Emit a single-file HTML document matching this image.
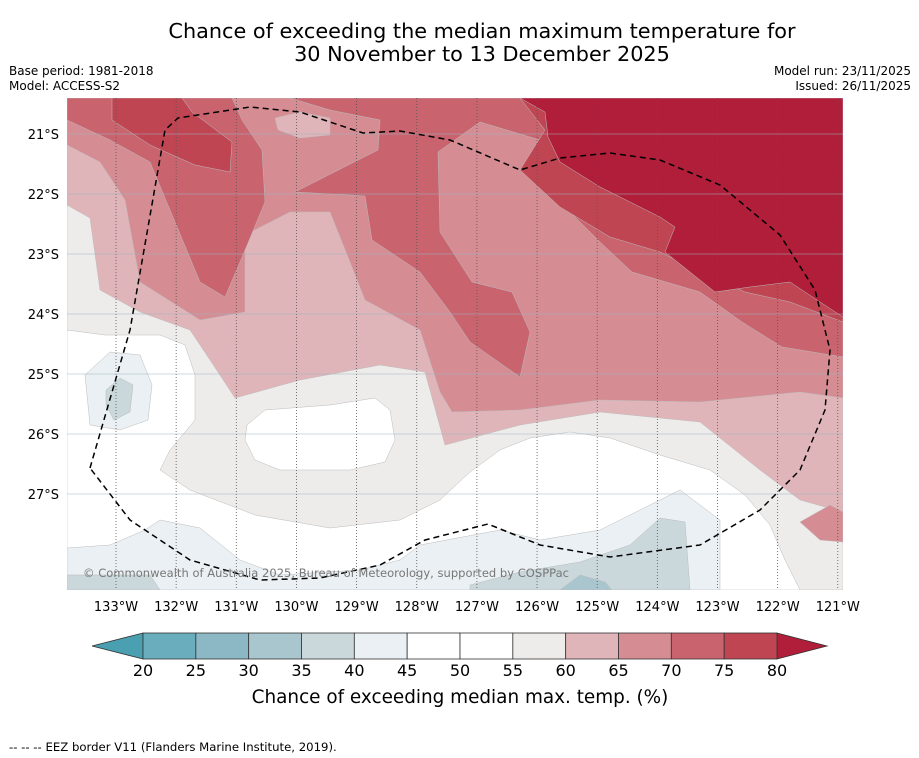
<!DOCTYPE html>
<html><head><meta charset="utf-8"><style>
body{margin:0;background:#fff;width:919px;height:758px;overflow:hidden;font-family:"DejaVu Sans","Liberation Sans",sans-serif}
svg{display:block;font-family:"DejaVu Sans","Liberation Sans",sans-serif}
</style></head><body>
<svg id="chart" width="919" height="758" viewBox="0 0 919 758">
<text x="482" y="38" font-size="20.8" text-anchor="middle">Chance of exceeding the median maximum temperature for</text>
<text x="482" y="61" font-size="20.8" text-anchor="middle">30 November to 13 December 2025</text>
<text x="9" y="75" font-size="12">Base period: 1981-2018</text>
<text x="9" y="90" font-size="12">Model: ACCESS-S2</text>
<text x="911" y="75" font-size="12" text-anchor="end">Model run: 23/11/2025</text>
<text x="911" y="90" font-size="12" text-anchor="end">Issued: 26/11/2025</text>
<defs><clipPath id="mapclip"><rect x="67" y="98" width="776" height="492"/></clipPath></defs>
<g clip-path="url(#mapclip)" stroke="#bbb" stroke-width="0.5">
<rect x="67" y="98" width="776" height="492" fill="#eeeceb"/>
<path fill="#ffffff" d="M67,330 L105,335 L160,335 L185,345 L195,375 L195,420 L170,450 L160,470 L190,490 L255,515 L330,528 L400,520 L440,500 L470,472 L500,450 L530,438 L570,432 L610,438 L660,455 L710,470 L745,495 L770,525 L785,560 L800,590 L67,590 Z"/>
<path fill="#ffffff" d="M247,425 L265,410 L330,405 L375,398 L390,410 L395,440 L385,462 L350,470 L280,470 L255,460 L245,440 Z"/>
<path fill="#e0b5ba" d="M67,205 L90,218 L100,290 L140,312 L190,330 L210,360 L235,398 L300,380 L380,365 L425,372 L445,445 L520,425 L600,412 L700,422 L760,470 L800,500 L843,512 L843,98 L67,98 Z"/>
<path fill="#d68c93" d="M67,145 L100,162 L125,200 L140,282 L200,320 L245,312 L245,235 L290,212 L330,212 L350,262 L365,300 L420,330 L440,392 L452,412 L520,410 L600,400 L700,402 L800,392 L843,398 L843,98 L67,98 Z"/>
<path fill="#e0b5ba" d="M275,118 L300,112 L330,118 L330,135 L300,138 L278,130 Z"/>
<path fill="#d68c93" d="M800,522 L830,505 L843,512 L843,542 L820,540 Z"/>
<path fill="#c9646f" d="M67,98 L67,120 L110,140 L150,162 L175,222 L200,282 L225,297 L240,262 L265,202 L262,150 L242,120 L232,98 Z"/>
<path fill="#c9646f" d="M290,98 L330,110 L380,120 L378,150 L295,192 L365,196 L372,240 L420,272 L450,312 L470,342 L520,377 L530,332 L512,292 L472,282 L440,232 L438,152 L480,122 L540,140 L560,202 L600,242 L632,272 L700,292 L742,322 L782,347 L843,357 L843,98 Z"/>
<path fill="#c04552" d="M112,98 L112,120 L150,145 L195,165 L230,172 L232,142 L192,112 L182,98 Z"/>
<path fill="#c04552" d="M520,98 L545,130 L520,170 L560,207 L610,237 L660,252 L700,272 L745,292 L790,302 L843,322 L843,98 Z"/>
<path fill="#b01e3a" d="M520,98 L545,112 L548,137 L560,162 L600,187 L660,217 L675,227 L665,252 L690,272 L715,292 L750,287 L790,282 L820,302 L843,317 L843,98 Z"/>
<path fill="#eaf0f3" d="M85,375 L110,352 L140,355 L152,385 L148,420 L120,430 L90,425 Z"/>
<path fill="#cad8dc" d="M106,390 L120,378 L133,385 L130,412 L114,420 L106,405 Z"/>
<path fill="#eaf0f3" d="M67,548 L110,545 L145,530 L160,520 L200,528 L240,560 L280,575 L360,570 L400,560 L420,545 L500,530 L540,540 L600,530 L650,505 L680,490 L720,520 L720,590 L67,590 Z"/>
<path fill="#cad8dc" d="M67,575 L150,575 L160,590 L67,590 Z"/>
<path fill="#cad8dc" d="M470,585 L520,572 L580,562 L630,545 L660,518 L685,522 L690,590 L470,590 Z"/>
<path fill="#a9c6ce" d="M560,590 L580,575 L605,582 L612,590 Z"/>
</g>
<g id="grid"></g>
<path fill="none" stroke="#000" stroke-width="1.5" stroke-dasharray="6,4" d="M90,468 L130,330 L165,130 L178,118 L250,107 L300,112 L363,133 L400,131 L450,140 L520,170 L560,158 L610,153 L660,160 L720,185 L780,235 L815,290 L830,350 L825,410 L800,470 L760,510 L700,545 L610,557 L540,545 L488,524 L425,540 L380,565 L320,578 L260,580 L190,560 L130,520 Z"/>
<text x="83" y="577" font-size="11.5" fill="#777" textLength="486">© Commonwealth of Australia 2025, Bureau of Meteorology, supported by COSPPac</text>
<g id="axes"></g>
<g id="cbar"></g>
<text x="460" y="703" font-size="18.4" text-anchor="middle">Chance of exceeding median max. temp. (%)</text>
<text x="9" y="751" font-size="11.7">--  --  -- EEZ border V11 (Flanders Marine Institute, 2019).</text>
</svg>
<script>
const lonLabels=["133°W","132°W","131°W","130°W","129°W","128°W","127°W","126°W","125°W","124°W","123°W","122°W","121°W"];
const lonValues=[-133,-132,-131,-130,-129,-128,-127,-126,-125,-124,-123,-122,-121];
const latLabels=["21°S","22°S","23°S","24°S","25°S","26°S","27°S"];
const latValues=[-21,-22,-23,-24,-25,-26,-27];
const cbarTicks=[20,25,30,35,40,45,50,55,60,65,70,75,80];
const cbarColors=["#6aaebd","#8bb8c4","#a9c6ce","#cad8dc","#eaf0f3","#ffffff","#ffffff","#eeeceb","#e0b5ba","#d68c93","#c9646f","#c04552"];
const NS="http://www.w3.org/2000/svg";
const xLon=v=>116+(v+133)*60.15;
const yLat=v=>134+(-21-v)*60;
const xC=v=>143+(v-20)*(777-143)/60;
function mk(t,a,p){const e=document.createElementNS(NS,t);for(const k in a)e.setAttribute(k,a[k]);p.appendChild(e);return e;}
const grid=document.getElementById('grid'),axes=document.getElementById('axes'),cb=document.getElementById('cbar');
lonValues.forEach((v,i)=>{
 const l=mk('line',{x1:xLon(v),x2:xLon(v),y1:98,y2:590,stroke:'#555','stroke-width':0.8,'stroke-dasharray':'1,2'},grid);
 
 
 const t=mk('text',{x:xLon(v),y:611,'font-size':13,'text-anchor':'middle'},axes);t.textContent=lonLabels[i];
 
 
});
latValues.forEach((v,i)=>{
 const l=mk('line',{x1:67,x2:843,y1:yLat(v),y2:yLat(v),stroke:'#9fb4c2','stroke-width':0.6},grid);
 
 
 const t=mk('text',{x:59,y:yLat(v)+5,'font-size':13,'text-anchor':'end'},axes);t.textContent=latLabels[i];
 
 
});
const l1=mk('polygon',{points:`92,646 ${xC(20)},633 ${xC(20)},659`,fill:'#4a9fb0',stroke:'#333','stroke-width':0.8},cb);


const r1=mk('polygon',{points:`${xC(80)},633 827,646 ${xC(80)},659`,fill:'#b01e3a',stroke:'#333','stroke-width':0.8},cb);


cbarColors.forEach((c,i)=>{
 const x0=xC(cbarTicks[i]),x1=xC(cbarTicks[i+1]);
 const r=mk('rect',{x:x0,y:633,width:x1-x0,height:26,fill:c,stroke:'#333','stroke-width':0.8},cb);
 
 
});
cbarTicks.forEach(v=>{
 const t=mk('text',{x:xC(v),y:676,'font-size':16,'text-anchor':'middle'},cb);t.textContent=v;
 
 
});
</script>
</body></html>
